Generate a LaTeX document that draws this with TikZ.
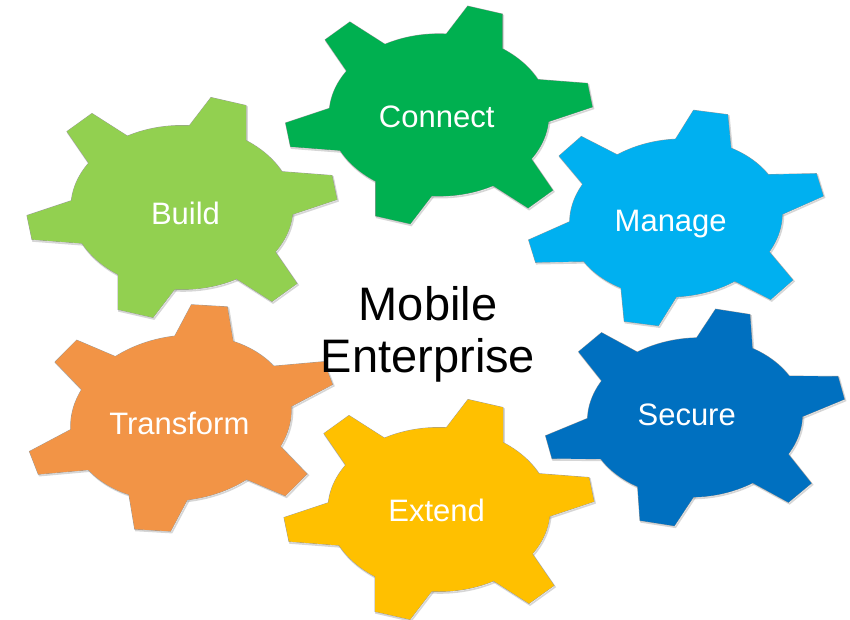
\documentclass[tikz,border=0pt]{standalone}
\usepackage{fontspec}
\setmainfont{Liberation Sans}
\definecolor{cbuild}{RGB}{146,208,80}
\definecolor{cconnect}{RGB}{0,176,80}
\definecolor{cmanage}{RGB}{0,176,240}
\definecolor{csecure}{RGB}{0,112,192}
\definecolor{cextend}{RGB}{255,192,0}
\definecolor{ctransform}{RGB}{242,148,70}
\newcommand\gearpieces[1]{%
  \path[#1] (0,0) ellipse [x radius=111, y radius=82];
  \path[#1] (-93,-44) -- (-115,-76) -- (-90,-94) -- (-54,-71) -- (0,0) -- cycle;
  \path[#1] (93,44) -- (115,76) -- (90,94) -- (54,71) -- (0,0) -- cycle;
  \path[#1] (6,-80) -- (29,-110) -- (64,-102) -- (64,-65) -- (0,0) -- cycle;
  \path[#1] (-6,80) -- (-29,110) -- (-64,102) -- (-64,65) -- (0,0) -- cycle;
  \path[#1] (98,-36) -- (150,-32) -- (155,-8) -- (110,7) -- (0,0) -- cycle;
  \path[#1] (-98,36) -- (-150,32) -- (-155,8) -- (-110,-7) -- (0,0) -- cycle;
}
\newcommand\drawgear[4]{% center, rotation, scale, colour
  \begin{scope}[shift={#1}, rotate=#2, scale=#3]
    \begin{scope}[shift={(1,1.5)}]
      \gearpieces{draw=black!45, line width=1.6pt, opacity=0.35}
    \end{scope}
    \gearpieces{draw=black!40, line width=0.8pt}
    \gearpieces{fill=#4}
  \end{scope}}
\tikzset{
  gearlabel/.style={anchor=base, text=white, font=\fontsize{31}{36}\selectfont, inner sep=0pt},
  centrelabel/.style={anchor=base, text=black, font=\fontsize{47}{52}\selectfont, inner sep=0pt}
}
\begin{document}
\begin{tikzpicture}[x=1pt, y=-1pt]
\useasboundingbox[fill=white] (0,0) rectangle (850,620);
\drawgear{(182,207.5)}{0}{1}{cbuild}
\drawgear{(439,115)}{0}{0.99}{cconnect}
\drawgear{(676,218)}{5.5}{0.96}{cmanage}
\drawgear{(181,418)}{9.5}{1}{ctransform}
\drawgear{(695,417.5)}{4}{0.97}{csecure}
\drawgear{(439,509.5)}{0}{1}{cextend}
\node[gearlabel] (build) at (185.5,225) {Build};
\node[gearlabel] (connect) at (436.7,127.3) {Connect};
\node[gearlabel] (manage) at (670.7,231.7) {Manage};
\node[gearlabel] (transform) at (179.3,434.3) {Transform};
\node[gearlabel] (secure) at (686.7,425.7) {Secure};
\node[gearlabel] (extend) at (436.7,521) {Extend};
\node[centrelabel] (mobile) at (428,320) {Mobile};
\node[centrelabel] (enterprise) at (428,372) {Enterprise};
\end{tikzpicture}
\end{document}
